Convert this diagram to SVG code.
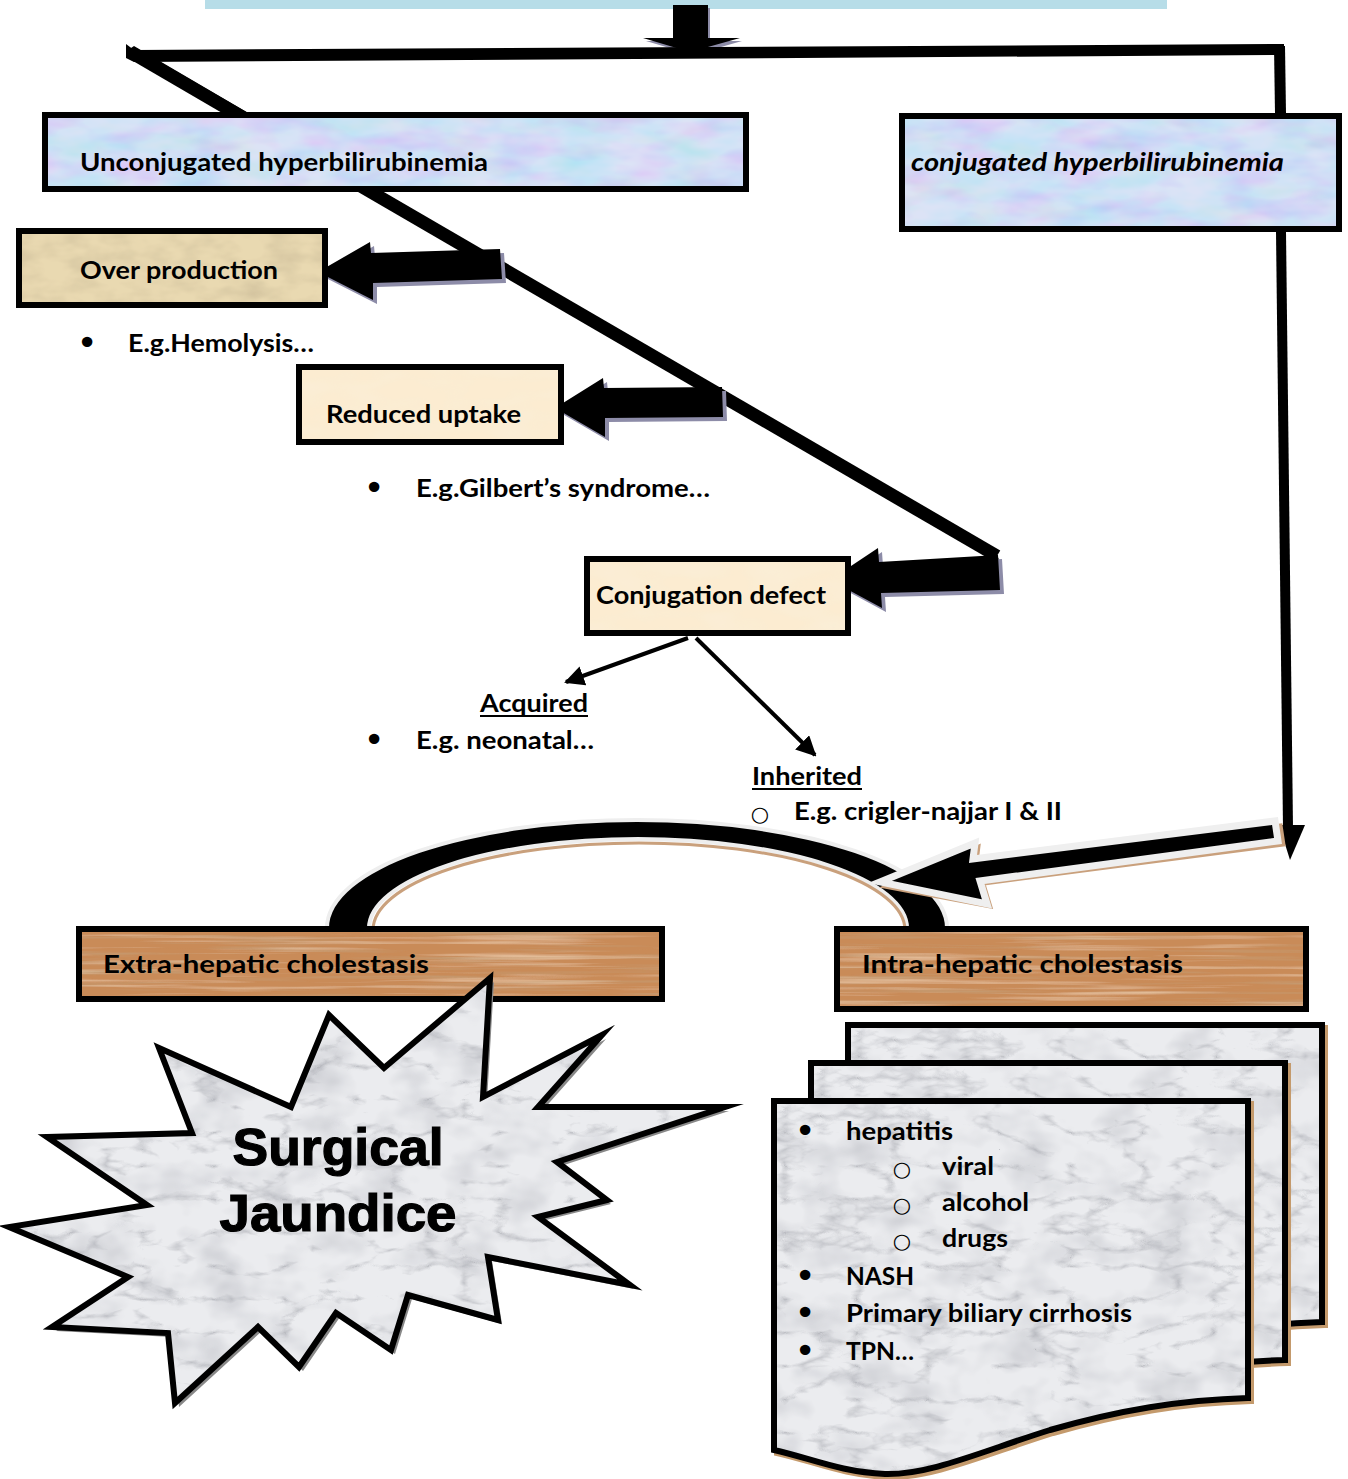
<svg xmlns="http://www.w3.org/2000/svg" width="1348" height="1479" viewBox="0 0 1348 1479">
  <style>
    .lbl { font-family: Lato, "Liberation Sans", "DejaVu Sans", sans-serif; font-weight: 700; font-size: 25px; fill: #000; }
    .it { font-style: italic; }
    .bul { font-family: "DejaVu Sans", "Liberation Sans", sans-serif; font-size: 36px; fill: #000; text-anchor: middle; }
    .sub { font-family: "DejaVu Sans", "Liberation Sans", sans-serif; font-size: 21px; fill: #000; text-anchor: middle; }
    .big { font-family: "Liberation Sans", Arial, sans-serif; font-weight: 700; font-size: 52px; fill: #000; stroke: #000; stroke-width: 1.2; text-anchor: middle; }
    .frame { fill: none; stroke: #000; stroke-width: 6; }
    .blk { fill: #000; }
    .shade { fill: #8d8ca8; }
  </style>
  <defs>
    <!-- soft pastel marbling for the bilirubinemia boxes -->
    <filter id="pastel" x="0" y="0" width="1" height="1">
      <feTurbulence type="fractalNoise" baseFrequency="0.018 0.045" numOctaves="3" seed="4" result="t"/>
      <feColorMatrix in="t" type="matrix" values="1.1 0 0 0 0.2  0 1.2 0 0 0.3  0 0 0.5 0 0.72  0 0 0 0 0.35" result="c"/>
      <feComposite in="c" in2="SourceAlpha" operator="in" result="m"/>
      <feMerge><feMergeNode in="SourceGraphic"/><feMergeNode in="m"/></feMerge>
    </filter>
    <!-- parchment mottling -->
    <filter id="parch" x="0" y="0" width="1" height="1">
      <feTurbulence type="fractalNoise" baseFrequency="0.03 0.06" numOctaves="3" seed="9" result="t"/>
      <feColorMatrix in="t" type="matrix" values="0 0 0 0 0.62  0 0 0 0 0.52  0 0 0 0 0.33  -1.4 0 0 0 0.85" result="c"/>
      <feComposite in="c" in2="SourceAlpha" operator="in" result="m"/>
      <feMerge><feMergeNode in="SourceGraphic"/><feMergeNode in="m"/></feMerge>
    </filter>
    <!-- light cream mottling -->
    <filter id="cream" x="0" y="0" width="1" height="1">
      <feTurbulence type="fractalNoise" baseFrequency="0.02 0.05" numOctaves="2" seed="2" result="t"/>
      <feColorMatrix in="t" type="matrix" values="0 0 0 0 0.95  0 0 0 0 0.86  0 0 0 0 0.7  -1.2 0 0 0 0.7" result="c"/>
      <feComposite in="c" in2="SourceAlpha" operator="in" result="m"/>
      <feMerge><feMergeNode in="SourceGraphic"/><feMergeNode in="m"/></feMerge>
    </filter>
    <!-- wood grain: dark and light streaks -->
    <filter id="wood" x="0" y="0" width="1" height="1">
      <feTurbulence type="fractalNoise" baseFrequency="0.005 0.2" numOctaves="3" seed="5" result="t"/>
      <feColorMatrix in="t" type="matrix" values="0 0 0 0 0.55  0 0 0 0 0.34  0 0 0 0 0.18  -2.4 0 0 0 1.15" result="d"/>
      <feColorMatrix in="t" type="matrix" values="0 0 0 0 0.86  0 0 0 0 0.62  0 0 0 0 0.42  0 2 0 0 -1.05" result="l"/>
      <feMerge result="g"><feMergeNode in="d"/><feMergeNode in="l"/></feMerge>
      <feComposite in="g" in2="SourceAlpha" operator="in" result="m"/>
      <feMerge><feMergeNode in="SourceGraphic"/><feMergeNode in="m"/></feMerge>
    </filter>
    <!-- grey marble: blotches plus fine veins -->
    <filter id="marble" x="0" y="0" width="1" height="1">
      <feTurbulence type="fractalNoise" baseFrequency="0.02 0.03" numOctaves="3" seed="3" result="b"/>
      <feColorMatrix in="b" type="matrix" values="0 0 0 0 0.55  0 0 0 0 0.56  0 0 0 0 0.6  -1.6 0 0 0 0.9" result="bb"/>
      <feTurbulence type="turbulence" baseFrequency="0.014 0.03" numOctaves="4" seed="11" result="t"/>
      <feColorMatrix in="t" type="matrix" values="0 0 0 0 0.35  0 0 0 0 0.36  0 0 0 0 0.4  -2.6 0 0 0 0.6" result="v"/>
      <feMerge result="g"><feMergeNode in="bb"/><feMergeNode in="v"/></feMerge>
      <feComposite in="g" in2="SourceAlpha" operator="in" result="vv"/>
      <feMerge><feMergeNode in="SourceGraphic"/><feMergeNode in="vv"/></feMerge>
    </filter>
    <marker id="ah" viewBox="0 0 10 10" refX="9" refY="5" markerWidth="5" markerHeight="5" orient="auto-start-reverse" markerUnits="strokeWidth">
      <path d="M0,0 L10,5 L0,10 Z" fill="#000"/>
    </marker>
    <path id="doc" d="M774 1101 L1248 1101 L1248 1398 C1180 1400 1120 1410 1050 1430 C980 1452 930 1475 885 1474 C840 1472 810 1458 774 1450 Z"/>
  </defs>

  <rect width="1348" height="1479" fill="#fff"/>

  <!-- banner edge at the top -->
  <rect x="205" y="0" width="962" height="9" fill="#b7dde8"/>

  <g id="connectors">
    <!-- main down arrow -->
    <polygon points="676,8 710,8 710,41 742,41 693,55 646,41 676,41" fill="#8d8ca8"/>
    <polygon points="673,5 708,5 708,38 740,38 690,52 643,38 673,38" class="blk"/>
    <!-- horizontal split bar -->
    <polygon points="126,44 134,50 1284,44 1284,55 134,62 126,58" class="blk"/>
    <!-- branch down to conjugated box -->
    <polygon points="1274,46 1285,46 1286,114 1275,114" class="blk"/>
    <!-- long diagonal through the unconjugated causes -->
    <polygon points="128,50 138,60 999,560 996,552 134,46" class="blk"/>
    <line x1="132" y1="53" x2="997" y2="556" stroke="#000" stroke-width="13"/>
    <!-- block arrows to cause boxes -->
    <polygon class="shade" points="322,276 374,246 375,257 504,253 506,283 377,287 377,304"/>
    <polygon class="blk" points="318,272 370,242 371,253 500,249 502,279 373,283 373,300"/>
    <polygon class="shade" points="559,412 607,382 608,392 726,391 727,421 609,422 609,441"/>
    <polygon class="blk" points="555,408 603,378 604,388 722,387 723,417 605,418 605,437"/>
    <polygon class="shade" points="834,584 882,552 883,566 1002,559 1004,594 885,597 886,612"/>
    <polygon class="blk" points="830,580 878,548 879,562 998,555 1000,590 881,593 882,608"/>
    <!-- acquired / inherited arrows -->
    <line x1="688" y1="638" x2="566" y2="682" stroke="#000" stroke-width="4" marker-end="url(#ah)"/>
    <line x1="696" y1="638" x2="815" y2="755" stroke="#000" stroke-width="4" marker-end="url(#ah)"/>
    <!-- conjugated box down to intra-hepatic -->
    <line x1="1281" y1="232" x2="1288" y2="828" stroke="#000" stroke-width="10"/>
    <polygon points="1279,825 1305,825 1290,860" class="blk"/>
    <!-- arch between the two cholestasis boxes -->
    <path d="M329 934 L329 928 A308 106 0 0 1 945 928 L945 934 L909 934 L909 928 A271 91 0 0 0 367 928 L367 934 Z" fill="none" stroke="#eeeeee" stroke-width="8"/>
    <path d="M373 930 A266 87 0 0 1 905 930" fill="none" stroke="#c9a07c" stroke-width="3"/>
    <path d="M329 934 L329 928 A308 106 0 0 1 945 928 L945 934 L909 934 L909 928 A271 91 0 0 0 367 928 L367 934 Z" class="blk"/>
    <!-- arrow into the arch from the right -->
    <polygon points="884,887 979,846 977,862 1281,825 1284,845 984,884 991,907" fill="#c9a07c" stroke="#c9a07c" stroke-width="3"/>
    <polygon points="880,882 975,843 973,859 1275,821 1278,841 980,881 987,904" fill="#000" stroke="#efefef" stroke-width="7" stroke-linejoin="miter"/>
  </g>

  <g id="node-unconjugated">
    <rect x="45" y="115" width="701" height="74" fill="#c6d1f2" filter="url(#pastel)"/>
    <rect x="45" y="115" width="701" height="74" class="frame"/>
    <text x="80" y="171" class="lbl" textLength="408" lengthAdjust="spacingAndGlyphs">Unconjugated hyperbilirubinemia</text>
  </g>

  <g id="node-conjugated">
    <rect x="902" y="116" width="437" height="113" fill="#c6d1f2" filter="url(#pastel)"/>
    <rect x="902" y="116" width="437" height="113" class="frame"/>
    <text x="911" y="171" class="lbl it" textLength="373" lengthAdjust="spacingAndGlyphs">conjugated hyperbilirubinemia</text>
  </g>

  <g id="node-overproduction">
    <rect x="19" y="231" width="306" height="74" fill="#e9d9b1" filter="url(#parch)"/>
    <rect x="19" y="231" width="306" height="74" class="frame"/>
    <text x="80" y="279" class="lbl" textLength="198" lengthAdjust="spacingAndGlyphs">Over production</text>
  </g>
  <g id="note-hemolysis">
    <text x="87" y="355" class="bul">•</text>
    <text x="128" y="352" class="lbl" textLength="186" lengthAdjust="spacingAndGlyphs">E.g.Hemolysis…</text>
  </g>

  <g id="node-reduced-uptake">
    <rect x="299" y="367" width="262" height="75" fill="#fcecd1" filter="url(#cream)"/>
    <rect x="299" y="367" width="262" height="75" class="frame"/>
    <text x="326" y="423" class="lbl" textLength="195" lengthAdjust="spacingAndGlyphs">Reduced uptake</text>
  </g>
  <g id="note-gilbert">
    <text x="374" y="500" class="bul">•</text>
    <text x="416" y="497" class="lbl" textLength="294" lengthAdjust="spacingAndGlyphs">E.g.Gilbert’s syndrome…</text>
  </g>

  <g id="node-conjugation-defect">
    <rect x="587" y="559" width="261" height="74" fill="#fcecd1" filter="url(#cream)"/>
    <rect x="587" y="559" width="261" height="74" class="frame"/>
    <text x="596" y="604" class="lbl" textLength="230" lengthAdjust="spacingAndGlyphs">Conjugation defect</text>
  </g>

  <g id="node-acquired">
    <text x="480" y="712" class="lbl" textLength="108" lengthAdjust="spacingAndGlyphs">Acquired</text>
    <line x1="480" y1="716" x2="588" y2="716" stroke="#000" stroke-width="2"/>
    <text x="374" y="752" class="bul">•</text>
    <text x="416" y="749" class="lbl" textLength="178" lengthAdjust="spacingAndGlyphs">E.g. neonatal…</text>
  </g>

  <g id="node-inherited">
    <text x="752" y="785" class="lbl" textLength="110" lengthAdjust="spacingAndGlyphs">Inherited</text>
    <line x1="752" y1="789" x2="862" y2="789" stroke="#000" stroke-width="2"/>
    <text x="760" y="821" class="sub">○</text>
    <text x="794" y="820" class="lbl" textLength="268" lengthAdjust="spacingAndGlyphs">E.g. crigler-najjar I &amp; II</text>
  </g>

  <g id="node-extrahepatic">
    <rect x="79" y="929" width="583" height="70" fill="#c98b58" filter="url(#wood)"/>
    <rect x="79" y="929" width="583" height="70" class="frame"/>
    <text x="103" y="973" class="lbl" textLength="326" lengthAdjust="spacingAndGlyphs">Extra-hepatic cholestasis</text>
  </g>

  <g id="node-intrahepatic">
    <rect x="837" y="929" width="469" height="80" fill="#c98b58" filter="url(#wood)"/>
    <rect x="837" y="929" width="469" height="80" class="frame"/>
    <text x="862" y="973" class="lbl" textLength="321" lengthAdjust="spacingAndGlyphs">Intra-hepatic cholestasis</text>
  </g>

  <g id="node-surgical-jaundice">
    <polygon transform="translate(4,4)" fill="#888" points="490,978 483,1097 602,1035 538,1107 725,1107 557,1162 607,1200 538,1217 630,1285 488,1257 498,1320 408,1295 391,1350 336,1313 299,1367 258,1327 175,1403 168,1333 52,1327 128,1277 9,1227 147,1205 47,1137 192,1133 159,1048 291,1107 329,1015 384,1068"/>
    <polygon fill="#ebecef" filter="url(#marble)" points="490,978 483,1097 602,1035 538,1107 725,1107 557,1162 607,1200 538,1217 630,1285 488,1257 498,1320 408,1295 391,1350 336,1313 299,1367 258,1327 175,1403 168,1333 52,1327 128,1277 9,1227 147,1205 47,1137 192,1133 159,1048 291,1107 329,1015 384,1068"/>
    <polygon fill="none" stroke="#000" stroke-width="6" stroke-linejoin="miter" stroke-miterlimit="10" points="490,978 483,1097 602,1035 538,1107 725,1107 557,1162 607,1200 538,1217 630,1285 488,1257 498,1320 408,1295 391,1350 336,1313 299,1367 258,1327 175,1403 168,1333 52,1327 128,1277 9,1227 147,1205 47,1137 192,1133 159,1048 291,1107 329,1015 384,1068"/>
    <text x="338" y="1165" class="big" textLength="211" lengthAdjust="spacingAndGlyphs">Surgical</text>
    <text x="338" y="1231" class="big" textLength="237" lengthAdjust="spacingAndGlyphs">Jaundice</text>
  </g>

  <g id="node-intrahepatic-causes">
    <!-- stacked sheets, back to front -->
    <use href="#doc" transform="translate(77,-73)" fill="none" stroke="#c49a6c" stroke-width="6"/>
    <use href="#doc" transform="translate(74,-76)" fill="#ebecef" filter="url(#marble)"/>
    <use href="#doc" transform="translate(74,-76)" fill="none" stroke="#000" stroke-width="6"/>
    <use href="#doc" transform="translate(40,-35)" fill="none" stroke="#c49a6c" stroke-width="6"/>
    <use href="#doc" transform="translate(37,-38)" fill="#ebecef" filter="url(#marble)"/>
    <use href="#doc" transform="translate(37,-38)" fill="none" stroke="#000" stroke-width="6"/>
    <use href="#doc" transform="translate(3,3)" fill="none" stroke="#c49a6c" stroke-width="6"/>
    <use href="#doc" fill="#ebecef" filter="url(#marble)"/>
    <use href="#doc" fill="none" stroke="#000" stroke-width="6"/>
    <text x="805" y="1143" class="bul">•</text>
    <text x="846" y="1140" class="lbl" textLength="107" lengthAdjust="spacingAndGlyphs">hepatitis</text>
    <text x="902" y="1176" class="sub">○</text>
    <text x="942" y="1175" class="lbl" textLength="52" lengthAdjust="spacingAndGlyphs">viral</text>
    <text x="902" y="1212" class="sub">○</text>
    <text x="942" y="1211" class="lbl" textLength="87" lengthAdjust="spacingAndGlyphs">alcohol</text>
    <text x="902" y="1248" class="sub">○</text>
    <text x="942" y="1247" class="lbl" textLength="66" lengthAdjust="spacingAndGlyphs">drugs</text>
    <text x="805" y="1288" class="bul">•</text>
    <text x="846" y="1285" class="lbl" textLength="68" lengthAdjust="spacingAndGlyphs">NASH</text>
    <text x="805" y="1325" class="bul">•</text>
    <text x="846" y="1322" class="lbl" textLength="286" lengthAdjust="spacingAndGlyphs">Primary biliary cirrhosis</text>
    <text x="805" y="1363" class="bul">•</text>
    <text x="846" y="1360" class="lbl" textLength="68" lengthAdjust="spacingAndGlyphs">TPN…</text>
  </g>
</svg>
